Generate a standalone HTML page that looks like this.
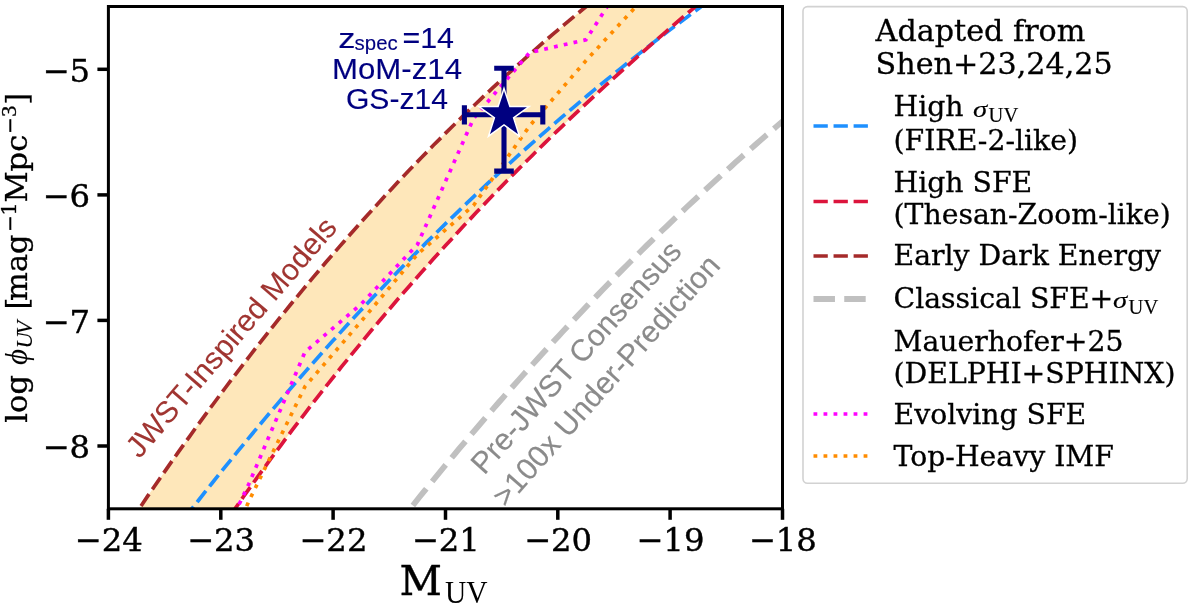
<!DOCTYPE html>
<html lang="en"><head><meta charset="utf-8"><title>UV luminosity function</title>
<style>html,body{margin:0;padding:0;background:#fff;overflow:hidden}svg{display:block}</style></head>
<body>
<svg width="1195" height="608" viewBox="0 0 1195 608">
<rect width="1195" height="608" fill="#fff"/>
<defs><clipPath id="ax"><rect x="108.4" y="6.5" width="674.1" height="502.3"/></clipPath></defs>
<g clip-path="url(#ax)" fill="none">
<path d="M130.0,522.3 L135.9,513.5 L141.9,504.7 L147.8,495.9 L153.8,487.3 L159.7,478.7 L165.7,470.1 L171.6,461.6 L177.6,453.2 L183.5,444.9 L189.5,436.6 L195.4,428.3 L201.4,420.1 L207.3,412.0 L213.3,404.0 L219.2,396.0 L225.2,388.0 L231.1,380.2 L237.1,372.3 L243.0,364.6 L249.0,356.9 L254.9,349.2 L260.9,341.6 L266.8,334.1 L272.8,326.6 L278.7,319.2 L284.7,311.8 L290.6,304.5 L296.6,297.3 L302.5,290.1 L308.5,282.9 L314.4,275.9 L320.4,268.8 L326.3,261.8 L332.3,254.9 L338.2,248.1 L344.2,241.3 L350.1,234.5 L356.1,227.8 L362.0,221.1 L368.0,214.5 L373.9,208.0 L379.9,201.5 L385.8,195.0 L391.8,188.7 L397.7,182.3 L403.7,176.0 L409.6,169.8 L415.6,163.6 L421.5,157.5 L427.5,151.4 L433.4,145.3 L439.4,139.4 L445.3,133.4 L451.3,127.5 L457.2,121.7 L463.2,115.9 L469.1,110.1 L475.1,104.5 L481.0,98.8 L487.0,93.2 L492.9,87.7 L498.9,82.1 L504.8,76.7 L510.8,71.3 L516.7,65.9 L522.7,60.6 L528.6,55.3 L534.6,50.1 L540.5,44.9 L546.5,39.7 L552.4,34.6 L558.4,29.6 L564.3,24.6 L570.3,19.6 L576.2,14.7 L582.2,9.8 L588.1,5.0 L594.1,0.2 L600.0,-4.6 L710.0,-5.8 L703.9,-0.6 L697.7,4.6 L691.6,9.8 L685.4,15.0 L679.3,20.2 L673.2,25.5 L667.0,30.8 L660.9,36.2 L654.7,41.5 L648.6,46.9 L642.5,52.3 L636.3,57.8 L630.2,63.3 L624.1,68.8 L617.9,74.3 L611.8,79.9 L605.6,85.5 L599.5,91.2 L593.4,96.8 L587.2,102.6 L581.1,108.3 L574.9,114.1 L568.8,119.9 L562.7,125.8 L556.5,131.7 L550.4,137.6 L544.2,143.6 L538.1,149.6 L532.0,155.7 L525.8,161.8 L519.7,167.9 L513.5,174.1 L507.4,180.3 L501.3,186.6 L495.1,192.9 L489.0,199.3 L482.8,205.7 L476.7,212.1 L470.6,218.6 L464.4,225.1 L458.3,231.7 L452.2,238.4 L446.0,245.1 L439.9,251.8 L433.7,258.6 L427.6,265.4 L421.5,272.3 L415.3,279.2 L409.2,286.2 L403.0,293.3 L396.9,300.3 L390.8,307.5 L384.6,314.7 L378.5,322.0 L372.3,329.3 L366.2,336.6 L360.1,344.1 L353.9,351.6 L347.8,359.1 L341.6,366.7 L335.5,374.4 L329.4,382.1 L323.2,389.9 L317.1,397.7 L310.9,405.6 L304.8,413.6 L298.7,421.6 L292.5,429.7 L286.4,437.8 L280.3,446.1 L274.1,454.4 L268.0,462.7 L261.8,471.1 L255.7,479.6 L249.6,488.2 L243.4,496.8 L237.3,505.5 L231.1,514.2 L225.0,523.0Z" fill="#fee7ba" stroke="none"/>
<path d="M185.0,517.7 L191.7,509.0 L198.4,500.5 L205.1,491.9 L211.8,483.5 L218.5,475.1 L225.3,466.7 L232.0,458.5 L238.7,450.2 L245.4,442.1 L252.1,434.0 L258.8,425.9 L265.5,417.9 L272.2,410.0 L278.9,402.1 L285.6,394.3 L292.3,386.5 L299.1,378.8 L305.8,371.1 L312.5,363.5 L319.2,356.0 L325.9,348.5 L332.6,341.1 L339.3,333.7 L346.0,326.3 L352.7,319.1 L359.4,311.8 L366.1,304.7 L372.8,297.6 L379.6,290.5 L386.3,283.5 L393.0,276.5 L399.7,269.6 L406.4,262.7 L413.1,255.9 L419.8,249.2 L426.5,242.4 L433.2,235.8 L439.9,229.2 L446.6,222.6 L453.4,216.1 L460.1,209.6 L466.8,203.2 L473.5,196.8 L480.2,190.5 L486.9,184.2 L493.6,178.0 L500.3,171.8 L507.0,165.7 L513.7,159.6 L520.4,153.5 L527.2,147.5 L533.9,141.6 L540.6,135.7 L547.3,129.8 L554.0,124.0 L560.7,118.2 L567.4,112.4 L574.1,106.8 L580.8,101.1 L587.5,95.5 L594.2,89.9 L600.9,84.4 L607.7,78.9 L614.4,73.5 L621.1,68.1 L627.8,62.7 L634.5,57.4 L641.2,52.1 L647.9,46.9 L654.6,41.6 L661.3,36.5 L668.0,31.4 L674.7,26.3 L681.5,21.2 L688.2,16.2 L694.9,11.2 L701.6,6.3 L708.3,1.4 L715.0,-3.5" stroke="#1e90ff" stroke-width="3.7" stroke-dasharray="14.3 5.75" stroke-dashoffset="0.3"/>
<path d="M225.0,523.0 L231.1,514.2 L237.3,505.5 L243.4,496.8 L249.6,488.2 L255.7,479.6 L261.8,471.1 L268.0,462.7 L274.1,454.4 L280.3,446.1 L286.4,437.8 L292.5,429.7 L298.7,421.6 L304.8,413.6 L310.9,405.6 L317.1,397.7 L323.2,389.9 L329.4,382.1 L335.5,374.4 L341.6,366.7 L347.8,359.1 L353.9,351.6 L360.1,344.1 L366.2,336.6 L372.3,329.3 L378.5,322.0 L384.6,314.7 L390.8,307.5 L396.9,300.3 L403.0,293.3 L409.2,286.2 L415.3,279.2 L421.5,272.3 L427.6,265.4 L433.7,258.6 L439.9,251.8 L446.0,245.1 L452.2,238.4 L458.3,231.7 L464.4,225.1 L470.6,218.6 L476.7,212.1 L482.8,205.7 L489.0,199.3 L495.1,192.9 L501.3,186.6 L507.4,180.3 L513.5,174.1 L519.7,167.9 L525.8,161.8 L532.0,155.7 L538.1,149.6 L544.2,143.6 L550.4,137.6 L556.5,131.7 L562.7,125.8 L568.8,119.9 L574.9,114.1 L581.1,108.3 L587.2,102.6 L593.4,96.8 L599.5,91.2 L605.6,85.5 L611.8,79.9 L617.9,74.3 L624.1,68.8 L630.2,63.3 L636.3,57.8 L642.5,52.3 L648.6,46.9 L654.7,41.5 L660.9,36.2 L667.0,30.8 L673.2,25.5 L679.3,20.2 L685.4,15.0 L691.6,9.8 L697.7,4.6 L703.9,-0.6 L710.0,-5.8" stroke="#dc143c" stroke-width="3.7" stroke-dasharray="14.3 5.75" stroke-dashoffset="10.6"/>
<path d="M130.0,522.3 L135.9,513.5 L141.9,504.7 L147.8,495.9 L153.8,487.3 L159.7,478.7 L165.7,470.1 L171.6,461.6 L177.6,453.2 L183.5,444.9 L189.5,436.6 L195.4,428.3 L201.4,420.1 L207.3,412.0 L213.3,404.0 L219.2,396.0 L225.2,388.0 L231.1,380.2 L237.1,372.3 L243.0,364.6 L249.0,356.9 L254.9,349.2 L260.9,341.6 L266.8,334.1 L272.8,326.6 L278.7,319.2 L284.7,311.8 L290.6,304.5 L296.6,297.3 L302.5,290.1 L308.5,282.9 L314.4,275.9 L320.4,268.8 L326.3,261.8 L332.3,254.9 L338.2,248.1 L344.2,241.3 L350.1,234.5 L356.1,227.8 L362.0,221.1 L368.0,214.5 L373.9,208.0 L379.9,201.5 L385.8,195.0 L391.8,188.7 L397.7,182.3 L403.7,176.0 L409.6,169.8 L415.6,163.6 L421.5,157.5 L427.5,151.4 L433.4,145.3 L439.4,139.4 L445.3,133.4 L451.3,127.5 L457.2,121.7 L463.2,115.9 L469.1,110.1 L475.1,104.5 L481.0,98.8 L487.0,93.2 L492.9,87.7 L498.9,82.1 L504.8,76.7 L510.8,71.3 L516.7,65.9 L522.7,60.6 L528.6,55.3 L534.6,50.1 L540.5,44.9 L546.5,39.7 L552.4,34.6 L558.4,29.6 L564.3,24.6 L570.3,19.6 L576.2,14.7 L582.2,9.8 L588.1,5.0 L594.1,0.2 L600.0,-4.6" stroke="#a52a2a" stroke-width="3.7" stroke-dasharray="14.3 5.75" stroke-dashoffset="0.3"/>
<path d="M400.0,521.7 L404.9,515.4 L409.9,509.2 L414.8,503.0 L419.7,496.8 L424.7,490.7 L429.6,484.6 L434.6,478.5 L439.5,472.5 L444.4,466.5 L449.4,460.5 L454.3,454.6 L459.2,448.7 L464.2,442.8 L469.1,436.9 L474.1,431.1 L479.0,425.3 L483.9,419.6 L488.9,413.8 L493.8,408.2 L498.7,402.5 L503.7,396.8 L508.6,391.2 L513.5,385.7 L518.5,380.1 L523.4,374.6 L528.4,369.1 L533.3,363.6 L538.2,358.2 L543.2,352.8 L548.1,347.4 L553.0,342.0 L558.0,336.7 L562.9,331.4 L567.8,326.1 L572.8,320.9 L577.7,315.7 L582.7,310.5 L587.6,305.3 L592.5,300.2 L597.5,295.1 L602.4,290.0 L607.3,285.0 L612.3,279.9 L617.2,274.9 L622.2,269.9 L627.1,265.0 L632.0,260.1 L637.0,255.2 L641.9,250.3 L646.8,245.4 L651.8,240.6 L656.7,235.8 L661.6,231.0 L666.6,226.3 L671.5,221.6 L676.5,216.9 L681.4,212.2 L686.3,207.5 L691.3,202.9 L696.2,198.3 L701.1,193.7 L706.1,189.1 L711.0,184.6 L715.9,180.1 L720.9,175.6 L725.8,171.1 L730.8,166.7 L735.7,162.2 L740.6,157.8 L745.6,153.4 L750.5,149.1 L755.4,144.8 L760.4,140.4 L765.3,136.1 L770.3,131.9 L775.2,127.6 L780.1,123.4 L785.1,119.2 L790.0,115.0" stroke="#c0c0c0" stroke-width="5.8" stroke-dasharray="21.46 9.28" stroke-dashoffset="10"/>
<path d="M192.6,602.0 L248.8,484.0 L305.0,352.0 L361.2,304.0 L417.4,244.6 L473.5,118.5 L529.7,52.5 L585.9,39.8 L642.0,-47.7" stroke="#ff00ff" stroke-width="3.7" stroke-dasharray="3.8 6.22" stroke-dashoffset="1.9"/>
<path d="M192.6,630.0 L248.8,501.3 L305.0,386.5 L361.2,321.3 L417.4,254.3 L473.5,205.5 L529.7,125.8 L585.9,60.7 L642.0,0.0" stroke="#ff8c00" stroke-width="3.7" stroke-dasharray="3.8 6.22" stroke-dashoffset="5.1"/>
<g stroke="#000080" stroke-width="5.1" stroke-linecap="butt">
<path d="M464.4,114.8 H542.8 M504.0,68.3 V171.1"/>
<path d="M464.4,105.3 V124.5 M542.8,105.3 V124.5 M494.2,68.3 H513.8 M494.2,171.1 H513.8"/>
</g>
<path d="M504.0,88.4 L509.9,106.6 L529.1,106.6 L513.6,117.9 L519.5,136.2 L504.0,124.9 L488.5,136.2 L494.4,117.9 L478.9,106.6 L498.1,106.6Z" fill="#000080" stroke="#fff" stroke-width="1.5" stroke-linejoin="miter"/>
</g>
<g font-family="'Liberation Sans', Arial, Helvetica, sans-serif" font-size="29.6" fill="#000080" stroke="#000080" stroke-width="0.12">
<text x="338.2" y="47.5" font-size="27.4" textLength="17.2" lengthAdjust="spacingAndGlyphs">z</text>
<text x="354.6" y="49.8" font-size="20.4">spec</text>
<text x="402.4" y="47.6" textLength="51.6" lengthAdjust="spacingAndGlyphs">=14</text>
<text x="332" y="78.8" textLength="130" lengthAdjust="spacingAndGlyphs">MoM-z14</text>
<text x="345.9" y="108.7" textLength="102.1" lengthAdjust="spacingAndGlyphs">GS-z14</text>
</g>
<text font-family="'Liberation Sans', Arial, Helvetica, sans-serif" font-size="30.3" fill="#a03531" stroke="#a03531" stroke-width="0.1" text-anchor="middle" transform="translate(238.9,344) rotate(-49.3)">JWST-Inspired Models</text>
<g font-family="'Liberation Sans', Arial, Helvetica, sans-serif" font-size="30.3" fill="#8b8b8b" stroke="#8b8b8b" stroke-width="0.15">
<text transform="translate(485.8,473.9) rotate(-48.3)" x="-2.5" y="0">Pre-JWST Consensus</text>
<text transform="translate(720,267.5) rotate(-48.3)" x="-322.4" y="0.5" textLength="324.4" lengthAdjust="spacing">&gt;100x Under-Prediction</text>
</g>
<rect x="108.4" y="6.5" width="674.1" height="502.3" fill="none" stroke="#000" stroke-width="3"/>
<g stroke="#000" stroke-width="3.5">
<line x1="108.4" y1="508.8" x2="108.4" y2="519.8"/>
<line x1="220.8" y1="508.8" x2="220.8" y2="519.8"/>
<line x1="333.1" y1="508.8" x2="333.1" y2="519.8"/>
<line x1="445.5" y1="508.8" x2="445.5" y2="519.8"/>
<line x1="557.8" y1="508.8" x2="557.8" y2="519.8"/>
<line x1="670.1" y1="508.8" x2="670.1" y2="519.8"/>
<line x1="782.5" y1="508.8" x2="782.5" y2="519.8"/>
<line x1="108.4" y1="69.3" x2="97.4" y2="69.3"/>
<line x1="108.4" y1="194.9" x2="97.4" y2="194.9"/>
<line x1="108.4" y1="320.4" x2="97.4" y2="320.4"/>
<line x1="108.4" y1="446.0" x2="97.4" y2="446.0"/>
</g>
<g font-family="'DejaVu Serif', serif" font-size="32.3" fill="#000" stroke="#000" stroke-width="0.4">
<text x="108.7" y="551.3" text-anchor="middle">−24</text>
<text x="221.1" y="551.3" text-anchor="middle">−23</text>
<text x="333.4" y="551.3" text-anchor="middle">−22</text>
<text x="445.8" y="551.3" text-anchor="middle">−21</text>
<text x="558.1" y="551.3" text-anchor="middle">−20</text>
<text x="670.4" y="551.3" text-anchor="middle">−19</text>
<text x="782.8" y="551.3" text-anchor="middle">−18</text>
<text x="90.2" y="81.5" text-anchor="end">−5</text>
<text x="90.2" y="207.1" text-anchor="end">−6</text>
<text x="90.2" y="332.6" text-anchor="end">−7</text>
<text x="90.2" y="458.2" text-anchor="end">−8</text>
</g>
<text x="399.5" y="595" font-family="'DejaVu Serif', serif" font-size="41.5" stroke="#000" stroke-width="0.4">M</text>
<text x="445" y="603.4" font-family="'Liberation Serif', 'DejaVu Serif', serif" font-size="32.5" textLength="42.6" lengthAdjust="spacingAndGlyphs">UV</text>
<g transform="translate(26.6,426) rotate(-90)" font-family="'DejaVu Serif', serif" font-size="30.5" fill="#000" stroke="#000" stroke-width="0.3">
<text x="3.3" y="0">log</text>
<text x="61" y="0" font-family="'Liberation Serif', 'DejaVu Serif', serif" font-style="italic" font-size="31" stroke-width="0.1">ϕ</text>
<text x="77.4 91.6" y="5.5" font-family="'Liberation Serif', 'DejaVu Serif', serif" font-style="italic" font-size="22.5" stroke-width="0.1">UV</text>
<text x="116.6" y="0">[</text>
<text x="125" y="0">mag</text>
<text x="195.2" y="-7.4" font-family="'Liberation Serif', 'DejaVu Serif', serif" font-size="26" stroke-width="0.6">−</text>
<text x="210.2" y="-10.5" font-size="21.3">1</text>
<text x="223.4" y="0">Mpc</text>
<text x="293.2" y="-7.4" font-family="'Liberation Serif', 'DejaVu Serif', serif" font-size="26" stroke-width="0.6">−</text>
<text x="309.2" y="-10.5" font-family="'Liberation Serif', 'DejaVu Serif', serif" font-size="22">3</text>
<text x="321.2" y="0">]</text>
</g>
<rect x="803" y="6.6" width="384.2" height="476.6" rx="4.5" fill="#fff" stroke="#d2d2d2" stroke-width="1.6"/>
<g font-family="'DejaVu Serif', serif" font-size="30.2" fill="#000" stroke="#000" stroke-width="0.3">
<text x="875.6" y="40.8">Adapted from</text>
<text x="875.6" y="74">Shen+23,24,25</text>
</g>
<g font-family="'DejaVu Serif', serif" font-size="28.3" fill="#000" stroke="#000" stroke-width="0.3">
<text x="893.5" y="116.2">High</text><text transform="translate(973,116.5) scale(1.27,1)" font-family="'Liberation Serif', 'DejaVu Serif', serif" font-style="italic" font-size="22.6" stroke-width="0.15">σ</text><text x="988.6" y="122.2" font-family="'Liberation Serif', 'DejaVu Serif', serif" font-size="20.5" stroke-width="0.15">UV</text>
<text x="893.5" y="150.4">(FIRE-2-like)</text>
<text x="893.5" y="192.3">High SFE</text>
<text x="893.5" y="224.3">(Thesan-Zoom-like)</text>
<text x="893.5" y="265">Early Dark Energy</text>
<text x="893.5" y="307.5">Classical SFE+</text><text transform="translate(1113,307.8) scale(1.27,1)" font-family="'Liberation Serif', 'DejaVu Serif', serif" font-style="italic" font-size="22.6" stroke-width="0.15">σ</text><text x="1128.6" y="313.5" font-family="'Liberation Serif', 'DejaVu Serif', serif" font-size="20.5" stroke-width="0.15">UV</text>
<text x="893.5" y="350.8">Mauerhofer+25</text>
<text x="893.5" y="382.5">(DELPHI+SPHINX)</text>
<text x="893.5" y="424.2">Evolving SFE</text>
<text x="893.5" y="465.9">Top-Heavy IMF</text>
</g>
<g fill="none">
<path d="M813.5,126 H868.5" stroke="#1e90ff" stroke-width="3.7" stroke-dasharray="14.3 5.75"/>
<path d="M813.5,201.5 H868.5" stroke="#dc143c" stroke-width="3.7" stroke-dasharray="14.3 5.75"/>
<path d="M813.5,256 H868.5" stroke="#a52a2a" stroke-width="3.7" stroke-dasharray="14.3 5.75"/>
<path d="M813.5,299 H868.5" stroke="#c0c0c0" stroke-width="5.8" stroke-dasharray="21.46 9.28"/>
<path d="M813.5,414 H868.5" stroke="#ff00ff" stroke-width="3.7" stroke-dasharray="3.8 6.22"/>
<path d="M813.5,456 H868.5" stroke="#ff8c00" stroke-width="3.7" stroke-dasharray="3.8 6.22"/>
</g>
</svg>
</body></html>
